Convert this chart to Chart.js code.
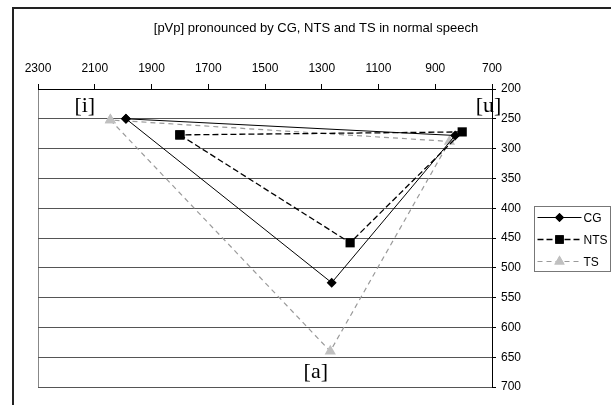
<!DOCTYPE html>
<html>
<head>
<meta charset="utf-8">
<script src="https://cdn.jsdelivr.net/npm/chart.js@4"></script>
<style>
    html, body { margin: 0; padding: 0; background: #fff; overflow: hidden; }
    #frame { position: absolute; left: 12px; top: 7px; width: 800px; height: 600px;
             border-left: 2px solid #222; border-top: 2px solid #222; }
    #wrap { position: absolute; left: 0; top: 0; width: 611px; height: 405px; }
</style>
</head>
<body>
<div id="frame"></div>
<div id="wrap"><canvas id="vowelChart" width="611" height="405"></canvas></div>
<script>
// F2 (x) and F1 (y) per vowel, in the order [i], [a], [u], back to [i]
const VOWELS = ['i', 'a', 'u', 'i'];
const CG_F2 = [1990, 1265, 830, 1990];
const CG_F1 = [250, 525, 278, 250];
const NTS_F2 = [1800, 1200, 805, 1800];
const NTS_F1 = [277, 458, 272, 277];
const TS_F2 = [2045, 1270, 850, 2045];
const TS_F1 = [252, 640, 288, 252];

// vowel labels, placed in axis units
const LABEL_TEXT = ['[i]', '[u]', '[a]'];
const LABEL_F2 = [2135, 712, 1321];
const LABEL_F1 = [229, 229, 675];

const TITLE = '[pVp] pronounced by CG, NTS and TS in normal speech';
const SANS = '"Liberation Sans", Arial, sans-serif';

function toPoints(xs, ys) {
    return xs.map((x, i) => ({ x: x, y: ys[i] }));
}

// title, centred on the whole chart object
const chartTitle = {
    id: 'chartTitle',
    afterDraw(chart) {
        const ctx = chart.ctx;
        ctx.save();
        ctx.font = '13px ' + SANS;
        ctx.fillStyle = '#000';
        ctx.textAlign = 'center';
        ctx.textBaseline = 'middle';
        ctx.fillText(TITLE, 316, 28);
        ctx.restore();
    }
};

// gray frame on the left and bottom of the plot area
const plotFrame = {
    id: 'plotFrame',
    beforeDraw(chart) {
        const { ctx, chartArea: a } = chart;
        ctx.save();
        ctx.strokeStyle = '#888';
        ctx.lineWidth = 1;
        ctx.beginPath();
        ctx.moveTo(a.left + 0.5, a.top);
        ctx.lineTo(a.left + 0.5, a.bottom + 0.5);
        ctx.lineTo(a.right, a.bottom + 0.5);
        ctx.stroke();
        ctx.restore();
    }
};

// [i] [u] [a] labels
const vowelLabels = {
    id: 'vowelLabels',
    afterDatasetsDraw(chart) {
        const { ctx, scales } = chart;
        ctx.save();
        ctx.font = '22px "Liberation Serif", "Times New Roman", serif';
        ctx.fillStyle = '#000';
        ctx.textAlign = 'center';
        ctx.textBaseline = 'middle';
        LABEL_TEXT.forEach((t, i) => {
            ctx.fillText(t, scales.x.getPixelForValue(LABEL_F2[i]), scales.y.getPixelForValue(LABEL_F1[i]));
        });
        ctx.restore();
    }
};

// boxed legend with line + marker samples
const boxLegend = {
    id: 'boxLegend',
    afterDraw(chart) {
        const { ctx, chartArea: a } = chart;
        const left = a.right + 42.5, top = 206.5, w = 76, h = 65;
        ctx.save();
        ctx.strokeStyle = '#777';
        ctx.lineWidth = 1;
        ctx.strokeRect(left, top, w, h);
        ctx.font = '12px ' + SANS;
        ctx.textBaseline = 'middle';
        chart.data.datasets.forEach((ds, i) => {
            const y = top + 11 + i * 22;
            ctx.strokeStyle = ds.borderColor;
            ctx.lineWidth = ds.borderWidth;
            ctx.setLineDash(ds.borderDash || []);
            ctx.beginPath();
            ctx.moveTo(left + 3, y);
            ctx.lineTo(left + 47, y);
            ctx.stroke();
            ctx.setLineDash([]);
            ctx.fillStyle = ds.pointBackgroundColor;
            Chart.helpers.drawPoint(ctx, { pointStyle: ds.pointStyle, radius: ds.pointRadius - 0.5, borderWidth: 0 }, left + 25, y);
            ctx.fill();
            ctx.fillStyle = '#000';
            ctx.fillText(ds.label, left + 49, y + 1);
        });
        ctx.restore();
    }
};

new Chart(document.getElementById('vowelChart'), {
    type: 'scatter',
    data: {
        datasets: [
            {
                label: 'CG',
                data: toPoints(CG_F2, CG_F1),
                showLine: true,
                borderColor: '#000',
                borderWidth: 1,
                pointStyle: 'rectRot',
                pointRadius: 5,
                pointBackgroundColor: '#000',
                pointBorderWidth: 0
            },
            {
                label: 'NTS',
                data: toPoints(NTS_F2, NTS_F1),
                showLine: true,
                borderColor: '#000',
                borderWidth: 1.3,
                borderDash: [6, 3],
                pointStyle: 'rect',
                pointRadius: 6.5,
                pointBackgroundColor: '#000',
                pointBorderWidth: 0
            },
            {
                label: 'TS',
                data: toPoints(TS_F2, TS_F1),
                showLine: true,
                borderColor: '#9a9a9a',
                borderWidth: 1.2,
                borderDash: [5, 4],
                pointStyle: 'triangle',
                pointRadius: 6.5,
                pointBackgroundColor: '#c0c0c0',
                pointBorderWidth: 0
            }
        ]
    },
    options: {
        responsive: false,
        animation: false,
        layout: { padding: { left: 38, right: 79, top: 45, bottom: 18 } },
        plugins: {
            legend: { display: false },
            tooltip: { enabled: false },
            title: { display: false }
        },
        scales: {
            x: {
                type: 'linear',
                position: 'top',
                reverse: true,
                min: 700,
                max: 2300,
                afterFit: s => { s.height = 44; },
                ticks: {
                    stepSize: 200, color: '#000', padding: 8,
                    font: { family: SANS, size: 12 },
                    callback: v => String(v)
                },
                grid: { drawOnChartArea: false, drawTicks: true, tickLength: 5, tickColor: '#000' },
                border: { display: true, color: '#000', width: 1 }
            },
            y: {
                type: 'linear',
                position: 'right',
                reverse: true,
                min: 200,
                max: 700,
                afterFit: s => { s.width = 40; },
                ticks: {
                    stepSize: 50, color: '#000', padding: 5,
                    font: { family: SANS, size: 12 },
                    callback: v => String(v)
                },
                grid: { color: '#555', tickLength: 4, tickColor: '#000' },
                border: { display: true, color: '#000', width: 1 }
            }
        }
    },
    plugins: [plotFrame, vowelLabels, boxLegend, chartTitle]
});
</script>
</body>
</html>
